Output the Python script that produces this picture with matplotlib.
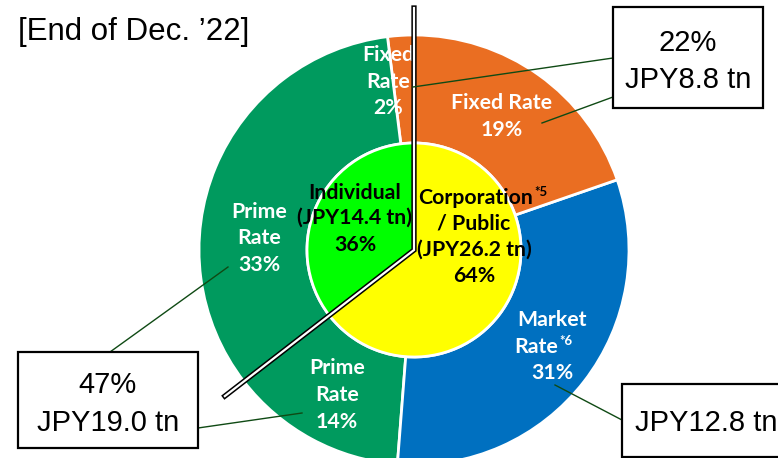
import numpy as np
import matplotlib
matplotlib.use('Agg')
import matplotlib.pyplot as plt
from matplotlib.patches import Rectangle

# outer ring: Individual fixed, Individual prime, Corp prime, Corp market, Corp fixed (JPY tn)
outer_values = [0.8, 13.6, 5.4, 12.8, 8.0]
outer_names = ['Fixed\nRate', 'Prime\nRate', 'Prime\nRate', 'Market\nRate', 'Fixed Rate']
outer_pcts = [2, 33, 14, 31, 19]

inner_names = ['Individual', 'Corporation / Public']
inner_values = [14.4, 26.2]
inner_pcts = [36, 64]

fixed_total = 8.8
prime_total = 19.0
market_total = 12.8
fixed_pct = 22
prime_pct = 47

W, H = 778, 458
ORANGE = '#EA6E22'
GREEN = '#009A5E'
BLUE = '#0070C0'
LEAD = '#0F4A14'

fig = plt.figure(figsize=(W / 100, H / 100), dpi=100)
ax = fig.add_axes([0, 0, 1, 1])

cx, cy = 414, H - 250   # pie centre (pixel y flipped)
R_out, R_in = 215, 107

ax.pie(outer_values, colors=[ORANGE, GREEN, GREEN, BLUE, ORANGE], startangle=90,
       counterclock=True, radius=R_out, center=(cx, cy), frame=True,
       wedgeprops=dict(width=R_out - R_in, edgecolor='white', linewidth=2))
ax.pie(inner_values, colors=['#00FF00', '#FFFF00'], startangle=90,
       counterclock=True, radius=R_in, center=(cx, cy), frame=True,
       wedgeprops=dict(edgecolor='white', linewidth=2))

ax.set_xlim(0, W)
ax.set_ylim(0, H)
ax.set_aspect('equal')
ax.axis('off')


def py(y):
    return H - y


# double split line: straight up, and along the individual / corporate boundary
ang = np.deg2rad(90 + 360 * inner_values[0] / sum(inner_values))
L = 239
xs = [cx, cx, cx + L * np.cos(ang)]
ys = [py(8), cy, cy + L * np.sin(ang)]
ax.plot(xs, ys, color='black', lw=3.8, solid_joinstyle='miter', zorder=5)
ax.plot(xs, ys, color='white', lw=1.6, solid_joinstyle='miter', zorder=6)

LBL = dict(family=['Lato', 'DejaVu Sans'], weight='bold', va='center', zorder=4)
FS = 15.3


def lines(x, ys_, texts, color, size=FS, ha='center'):
    for y, t in zip(ys_, texts):
        ax.text(x, py(y), t, color=color, fontsize=size, ha=ha, **LBL)


# outer labels
lines(388, [55, 82, 108], ['Fixed', 'Rate', f'{outer_pcts[0]}%'], 'white')
lines(259, [212, 238, 265], ['Prime', 'Rate', f'{outer_pcts[1]}%'], 'white')
lines(337, [368, 395, 422], ['Prime', 'Rate', f'{outer_pcts[2]}%'], 'white')
lines(552, [320, 373], ['Market', f'{outer_pcts[3]}%'], 'white')
lines(558, [347], ['Rate'], 'white', ha='right')
lines(559, [341], ['*6'], 'white', size=9.5, ha='left')
lines(502, [103, 130], ['Fixed Rate', f'{outer_pcts[4]}%'], 'white')

# inner labels
lines(355, [193, 218, 245], ['Individual', f'(JPY{inner_values[0]} tn)', f'{inner_pcts[0]}%'], 'black')
lines(533, [198], ['Corporation'], 'black', ha='right')
lines(534, [192], ['*5'], 'black', size=9.5, ha='left')
lines(474, [224, 250, 276], ['/ Public', f'(JPY{inner_values[1]} tn)', f'{inner_pcts[1]}%'], 'black')

# title
ax.text(18, py(32), '[End of Dec. \u201922]', family='Liberation Sans', fontsize=22.5,
        ha='left', va='center')

BOX = dict(family='Liberation Sans', fontsize=21, ha='center', va='center', zorder=8)


def box(x0, y0, x1, y1):
    ax.add_patch(Rectangle((x0, py(y1)), x1 - x0, y1 - y0, fill=True, facecolor='white',
                           edgecolor='black', lw=1.6, zorder=7, clip_on=False))


# leader lines
for (a, b) in [((613, 58), (413, 87)), ((613, 97), (542, 123)),
               ((110, 352), (228, 267)), ((198, 428), (302, 413)),
               ((622, 420), (555, 385))]:
    ax.plot([a[0], b[0]], [py(a[1]), py(b[1])], color=LEAD, lw=1, zorder=7)

box(613, 7, 763, 108)
ax.text(688, py(43), f'{fixed_pct}%', **BOX)
ax.text(688, py(80), f'JPY{fixed_total} tn', **BOX)

box(18, 352, 198, 448)
ax.text(108, py(385), f'{prime_pct}%', **BOX)
ax.text(108, py(423), f'JPY{prime_total} tn', **BOX)

box(622, 384, 800, 457)
ax.text(635, py(423), f'JPY{market_total} tn', **{**BOX, 'ha': 'left'})

fig.savefig('out.png', dpi=100)
